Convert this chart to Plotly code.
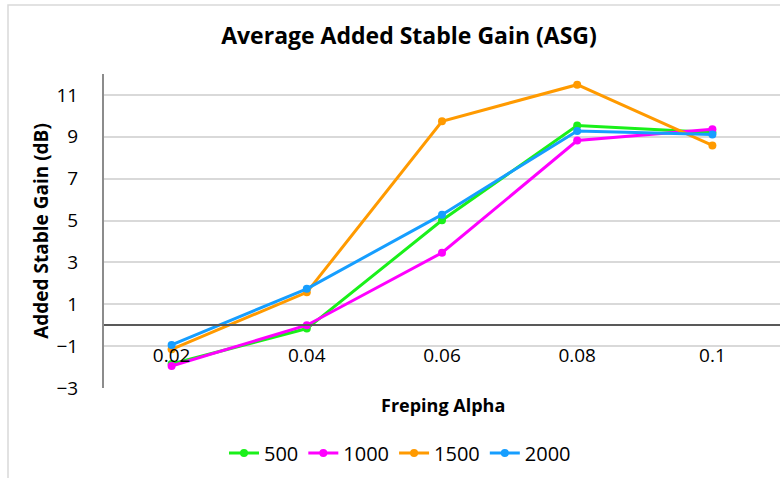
import plotly.graph_objects as go

categories = ["0.02", "0.04", "0.06", "0.08", "0.1"]
series_names = ["500", "1000", "1500", "2000"]
s500 = [-1.85, -0.16, 5.01, 9.54, 9.2]
s1000 = [-1.95, 0.0, 3.46, 8.82, 9.36]
s1500 = [-1.15, 1.57, 9.74, 11.49, 8.59]
s2000 = [-0.94, 1.74, 5.28, 9.28, 9.11]
y_ticks = [-3, -1, 1, 3, 5, 7, 9, 11]

colors = ["#1AF01A", "#FF00FF", "#FF9A00", "#169EFF"]
font = "Open Sans"

fig = go.Figure()
for name, vals, col in zip(series_names, [s500, s1000, s1500, s2000], colors):
    fig.add_trace(go.Scatter(
        x=categories, y=vals, name=name, mode="lines+markers",
        line=dict(color=col, width=3), marker=dict(color=col, size=8),
    ))

W, H = 780, 478
ml, mr, mt, mb = 104, 0, 74, 90
pw, ph = W - ml - mr, H - mt - mb
ymin, ymax = -3, 12

fig.update_layout(
    width=W, height=H,
    margin=dict(l=ml, r=mr, t=mt, b=mb),
    paper_bgcolor="white", plot_bgcolor="white",
    font=dict(family=font, color="#000000"),
    title=dict(text="<b>Average Added Stable Gain (ASG)</b>", x=409 / W, xanchor="center",
               y=1 - 36 / H, yanchor="middle", font=dict(size=23, family=font)),
    xaxis=dict(type="category", range=[-0.5, 4.5], anchor="free",
               position=(0 - ymin) / (ymax - ymin), showline=True, linecolor="#595959",
               linewidth=1.5, showgrid=False, ticks="outside", ticklen=13,
               tickcolor="rgba(0,0,0,0)", tickfont=dict(size=19, family=font)),
    yaxis=dict(range=[ymin, ymax], tickvals=y_ticks, showgrid=True, gridcolor="#D9D9D9",
               gridwidth=1.5, zeroline=False, showline=True, linecolor="#8C8C8C",
               linewidth=2, ticks="", ticklabelstandoff=20, tickfont=dict(size=19, family=font),
               title=dict(text="<b>Added Stable Gain (dB)</b>", font=dict(size=19, family=font),
                          standoff=3)),
    legend=dict(orientation="h", x=(400 - ml) / pw,
                xanchor="center", y=-(453 - mt - ph) / ph, yanchor="middle",
                font=dict(size=20, family=font), itemwidth=30, tracegroupgap=0,
                bgcolor="rgba(0,0,0,0)"),
    showlegend=True,
)

fig.add_annotation(text="<b>Freping Alpha</b>", xref="paper", yref="paper",
                   x=(443 - ml) / pw, y=-(405 - mt - ph) / ph, xanchor="center",
                   yanchor="middle", showarrow=False, font=dict(size=18, family=font))

# chart border
fig.add_shape(type="rect", xref="paper", yref="paper",
              x0=(8 - ml) / pw, x1=(790 - ml) / pw, y0=-(490 - mt - ph) / ph,
              y1=1 + (mt - 5) / ph, line=dict(color="#D9D9D9", width=1.5), layer="below")

fig.write_html("out.html")
